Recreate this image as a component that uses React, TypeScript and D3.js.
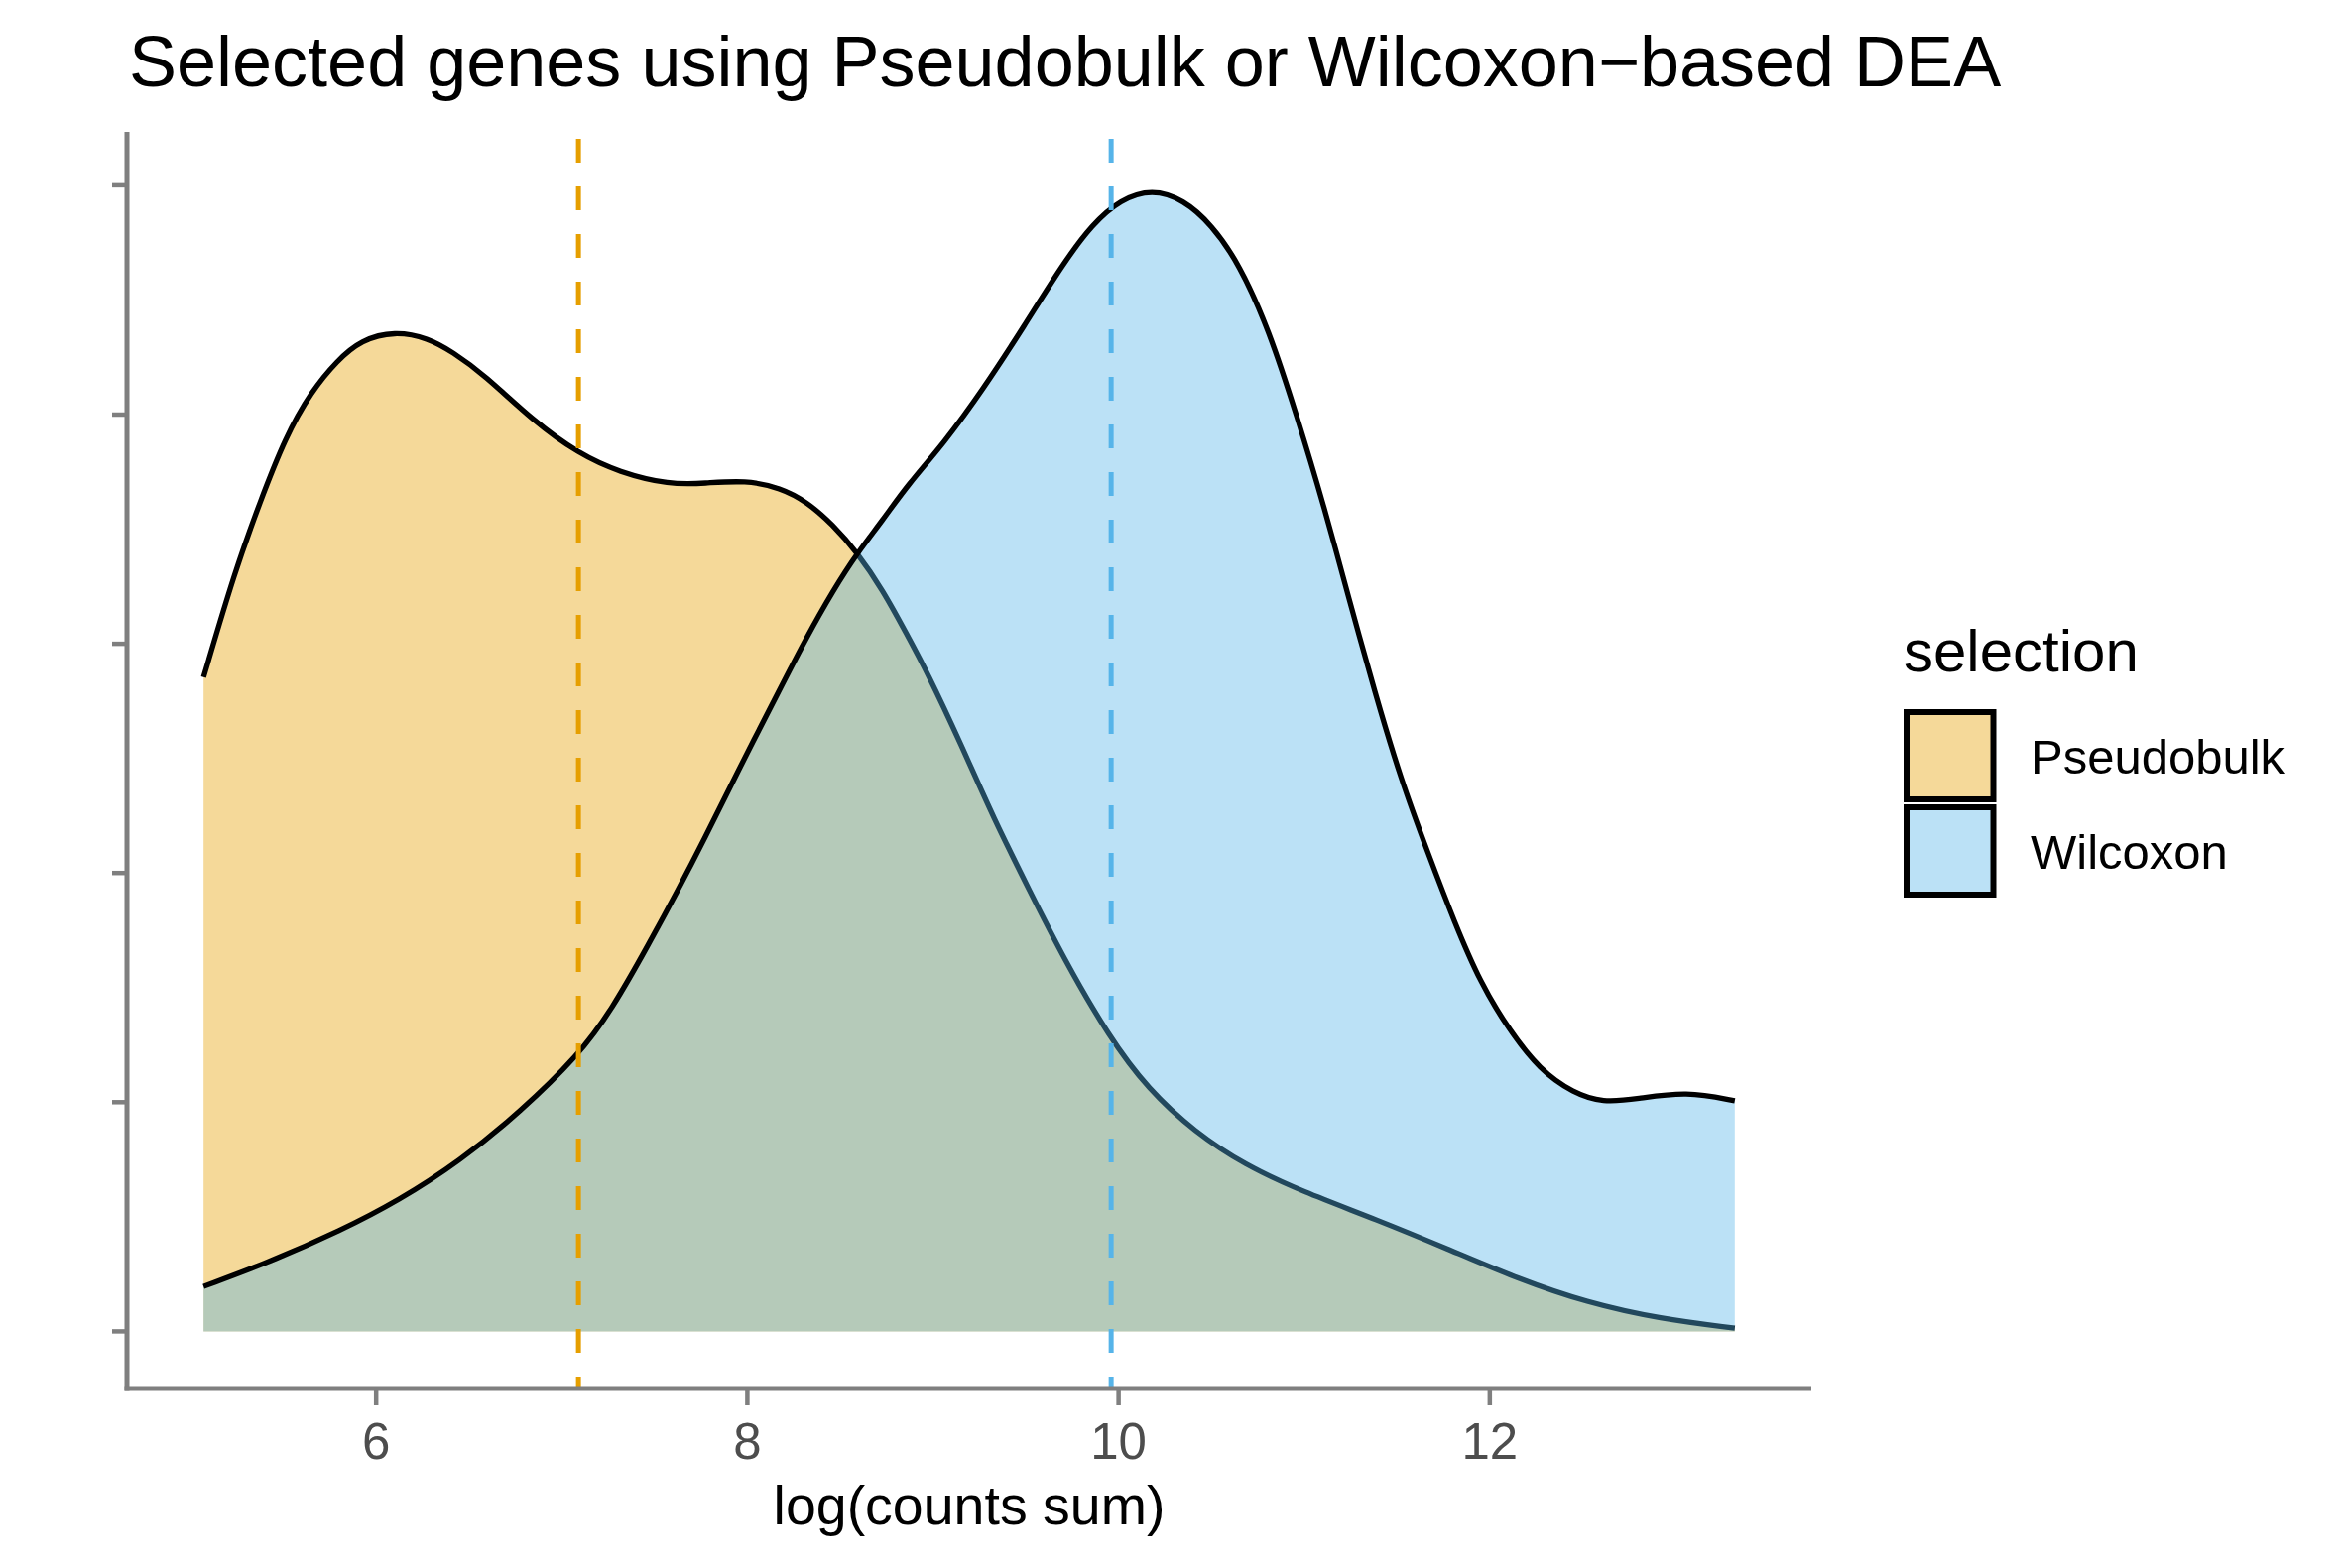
import React, { useEffect } from 'react';
import * as d3 from 'd3';

// density estimates (x = log(counts sum), y = density)
const pseudobulkX = [5.07, 5.24, 5.375, 5.51, 5.65, 5.79, 5.92, 6.1, 6.28, 6.41, 6.58, 6.85, 7.09, 7.31, 7.58, 7.77, 7.99, 8.18, 8.32, 8.46, 8.59, 8.73, 8.86, 8.97, 9.15, 9.33, 9.52, 9.7, 9.95, 10.16, 10.41, 10.68, 10.99, 11.39, 11.79, 12.15, 12.52, 12.92, 13.32];
const pseudobulkY = [0.1427, 0.166, 0.181, 0.195, 0.205, 0.2118, 0.2163, 0.2182, 0.2167, 0.2137, 0.2088, 0.1985, 0.1915, 0.1874, 0.1847, 0.185, 0.1857, 0.184, 0.181, 0.176, 0.17, 0.1617, 0.152, 0.1437, 0.1282, 0.1116, 0.0962, 0.0817, 0.0641, 0.0528, 0.0435, 0.0363, 0.0305, 0.0244, 0.0177, 0.0115, 0.0063, 0.0027, 0.0007];

const wilcoxonX = [5.07, 5.43, 5.81, 6.12, 6.45, 6.78, 7.09, 7.27, 7.47, 7.62, 7.77, 7.94, 8.18, 8.32, 8.46, 8.59, 8.73, 8.86, 9.06, 9.27, 9.49, 9.7, 9.86, 10.01, 10.18, 10.35, 10.5, 10.65, 10.81, 10.96, 11.11, 11.24, 11.38, 11.52, 11.67, 11.81, 11.95, 12.1, 12.27, 12.45, 12.61, 12.79, 13.06, 13.32];
const wilcoxonY = [0.0098, 0.0152, 0.022, 0.0285, 0.0371, 0.048, 0.0602, 0.0702, 0.0846, 0.0958, 0.1075, 0.1215, 0.1405, 0.1515, 0.1615, 0.1697, 0.177, 0.1845, 0.1938, 0.2055, 0.2192, 0.2329, 0.2416, 0.2469, 0.2492, 0.2469, 0.2415, 0.2329, 0.2185, 0.1998, 0.1796, 0.16, 0.1395, 0.1205, 0.104, 0.0892, 0.076, 0.066, 0.057, 0.052, 0.0499, 0.0507, 0.0524, 0.0503];

// median lines
const groups = ['Pseudobulk', 'Wilcoxon'];
const medians = [7.09, 9.96];
const colors = ['#E69F00', '#56B4E9'];

const xTicks = [6, 8, 10, 12];
const yTicks = [0, 0.05, 0.1, 0.15, 0.2, 0.25];

const W = 2369;
const H = 1581;
const panel = { left: 128, right: 1826, top: 133, bottom: 1400 };
const font = 'Liberation Sans, Arial, Helvetica, sans-serif';

const App = () => {
  useEffect(() => {
    document.body.style.margin = '0';
  }, []);

  const series = [
    pseudobulkX.map((x, i) => ({ x, y: pseudobulkY[i] })),
    wilcoxonX.map((x, i) => ({ x, y: wilcoxonY[i] })),
  ];

  // ggplot-like 5% expansion
  const allX = [...pseudobulkX, ...wilcoxonX];
  const [xmin, xmax] = d3.extent(allX) as [number, number];
  const xpad = (xmax - xmin) * 0.05;
  const x = d3.scaleLinear().domain([xmin - xpad, xmax + xpad]).range([panel.left, panel.right]);

  const ymax = d3.max([...pseudobulkY, ...wilcoxonY]) as number;
  const y = d3.scaleLinear().domain([-ymax * 0.05, ymax * 1.05]).range([panel.bottom, panel.top]);

  const curve = d3.curveBasis;
  const area = d3.area<{ x: number; y: number }>()
    .x(d => x(d.x))
    .y0(y(0))
    .y1(d => y(d.y))
    .curve(curve);
  const line = d3.line<{ x: number; y: number }>()
    .x(d => x(d.x))
    .y(d => y(d.y))
    .curve(curve);

  const axisGrey = '#7F7F7F';

  return (
    <svg width={W} height={H} style={{ display: 'block', background: '#fff' }} fontFamily={font}>
      <rect width={W} height={H} fill="#fff" />

      {/* densities */}
      {series.map((s, i) => (
        <g key={groups[i]}>
          <path d={area(s) as string} fill={colors[i]} fillOpacity={0.4} />
          <path d={line(s) as string} fill="none" stroke="#000" strokeWidth={5.3} />
        </g>
      ))}

      {/* median lines */}
      {medians.map((m, i) => (
        <line
          key={'m' + i}
          x1={x(m)}
          x2={x(m)}
          y1={panel.top}
          y2={panel.bottom}
          stroke={colors[i]}
          strokeWidth={5}
          strokeDasharray="24 24"
          strokeDashoffset={41}
        />
      ))}

      {/* y axis */}
      <line x1={panel.left} x2={panel.left} y1={panel.top} y2={panel.bottom + 2.5} stroke={axisGrey} strokeWidth={5} />
      {yTicks.map(t => (
        <line key={'yt' + t} x1={panel.left - 15} x2={panel.left} y1={y(t)} y2={y(t)} stroke={axisGrey} strokeWidth={4.5} />
      ))}

      {/* x axis */}
      <line x1={panel.left - 2.5} x2={panel.right} y1={panel.bottom} y2={panel.bottom} stroke={axisGrey} strokeWidth={5} />
      {xTicks.map(t => (
        <g key={'xt' + t}>
          <line x1={x(t)} x2={x(t)} y1={panel.bottom} y2={panel.bottom + 17} stroke={axisGrey} strokeWidth={4.5} />
          <text x={x(t)} y={1471} textAnchor="middle" fontSize={51} fill="#4D4D4D">{t}</text>
        </g>
      ))}
      <text x={(panel.left + panel.right) / 2} y={1537} textAnchor="middle" fontSize={55.5} fill="#000">log(counts sum)</text>

      {/* title */}
      <text x={130} y={87} fontSize={72} fill="#000">Selected genes using Pseudobulk or Wilcoxon−based DEA</text>

      {/* legend */}
      <text x={1919} y={677} fontSize={60} fill="#000">selection</text>
      {groups.map((g, i) => (
        <g key={'lg' + g}>
          <rect x={1922} y={718 + i * 96} width={87.5} height={88} fill={colors[i]} fillOpacity={0.4} stroke="#000" strokeWidth={6} />
          <text x={2047} y={780 + i * 96} fontSize={49} fill="#000">{g}</text>
        </g>
      ))}
    </svg>
  );
};

export default App;
